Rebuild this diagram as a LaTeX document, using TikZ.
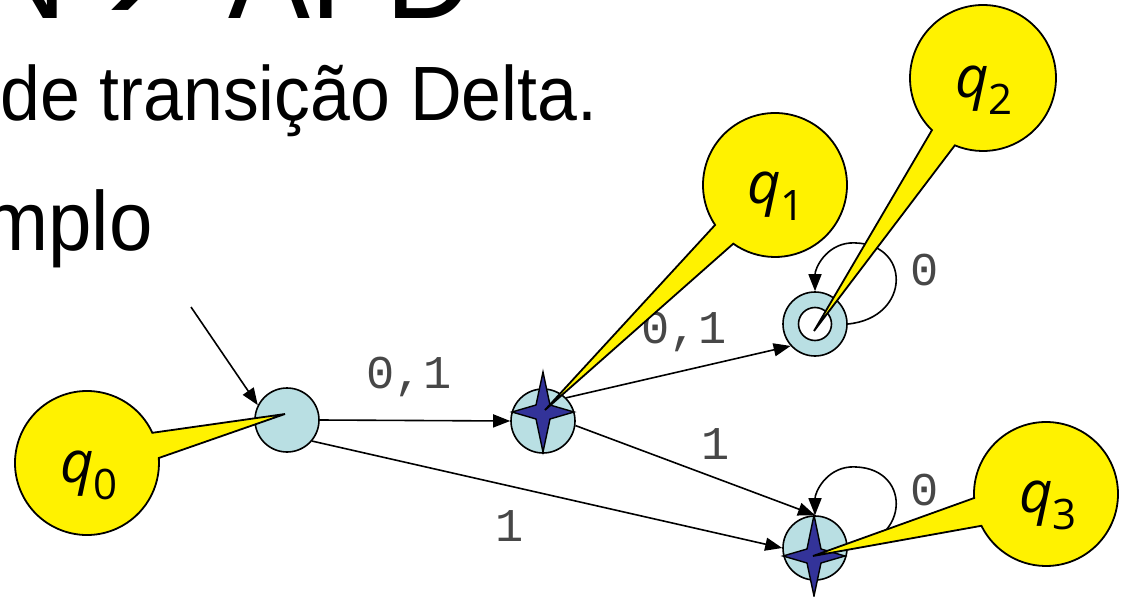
\documentclass[tikz,border=0pt]{standalone}
\usepackage{fontspec}
\usepackage{graphicx}
\setmainfont{Liberation Sans}
\newfontfamily\monofont{Liberation Mono}
\newfontfamily\callfont{Open Sans}
\newfontfamily\symfont{DejaVu Sans}
\usetikzlibrary{arrows.meta,calc}
\definecolor{stateblue}{RGB}{185,223,227}
\definecolor{starblue}{RGB}{51,51,153}
\begin{document}
\begin{tikzpicture}[x=1pt,y=-1pt,
  state/.style={circle, draw=black, line width=1.6pt, fill=stateblue, minimum size=64pt, inner sep=0pt},
  innerring/.style={circle, draw=black, line width=1.6pt, fill=white, minimum size=33pt, inner sep=0pt},
  starpath/.style={draw=black, line width=1.4pt, fill=starblue, line join=miter},
  edge/.style={draw=black, line width=1.6pt, -{Triangle[length=17pt,width=13pt]}},
  lab/.style={font=\monofont\fontsize{47}{47}\selectfont, text=black!72, inner sep=0pt, anchor=base},
  callout/.style={draw=black, line width=1.8pt, fill=yellow, line join=miter},
  qtext/.style={font=\callfont\fontsize{58}{58}\selectfont, anchor=base, inner sep=0pt},
  slidetext/.style={inner sep=0pt}
]
\useasboundingbox (0,0) rectangle (1128,597);
\clip (0,0) rectangle (1128,597);

% slide text
\node[slidetext, anchor=base west] (title) at (-22,19)
  {\fontsize{132}{132}\selectfont\makebox[88pt][l]{\scalebox{0.93}[1]{N}}\makebox[162pt][l]{\hspace{3pt}{\symfont\fontsize{107}{107}\selectfont ➔}}\scalebox{0.93}[1]{AFD}};
\node[slidetext, anchor=base west] (sub) at (0,120)
  {\fontsize{77}{77}\selectfont\scalebox{0.93}[1]{de transição Delta.}};
\node[slidetext, anchor=base east] (ex) at (153,250)
  {\fontsize{84}{84}\selectfont\scalebox{0.93}[1]{mplo}};

% states
\node[state] (q0) at (287,420) {};
\node[state] (q1) at (543,421) {};
\node[state] (q2) at (815,324) {};
\node[state] (q3) at (815,548) {};
\node[innerring] (q2in) at (815,324) {};

% stars
\draw[starpath, shift={(543,412)}] (0,-40) -- (7,-7) -- (31,0) -- (7,7) -- (0,40) -- (-7,7) -- (-31,0) -- (-7,-7) -- cycle;
\draw[starpath, shift={(814,556)}] (0,-41) -- (7,-7) -- (31,0) -- (7,7) -- (0,40) -- (-7,7) -- (-31,0) -- (-7,-7) -- cycle;

% connectors
\coordinate (init) at (191,307);
\draw[edge] (init) -- (q0.153);
\draw[edge] (q0.east) -- (q1.west);
\draw[edge] (q0.-40) -- (q3.west);
\draw[edge] (q1.45) -- (q2.222);
\draw[edge] (q1.-8) -- (q3.north);
\draw[edge] (q2.east) .. controls (912,318) and (912,240) .. (850,243) .. controls (826,245) and (815,268) .. (q2.north);
\draw[edge] (q3.east) .. controls (912,542) and (912,464) .. (850,467) .. controls (826,469) and (815,492) .. (q3.north);

% labels
\node[lab] (l01a) at (409,388) {0,1};
\node[lab] (l01b) at (684,343) {0,1};
\node[lab] (l1a) at (716,459) {1};
\node[lab] (l1b) at (510,541) {1};
\node[lab] (l0a) at (925,285) {0};
\node[lab] (l0b) at (925,505) {0};

% callouts
\coordinate (c0) at (87,463);  \coordinate (t0) at (285,414);
\coordinate (c1) at (775,185); \coordinate (t1) at (545,410);
\coordinate (c2) at (983,78);  \coordinate (t2) at (814,331);
\coordinate (c3) at (1046,494);\coordinate (t3) at (813,556);
\draw[callout] (t0) -- ($(c0)+(-24.8:72)$) arc[start angle=-24.8, end angle=-364, radius=72] -- cycle;
\draw[callout] (t1) -- ($(c1)+(146.3:72)$) arc[start angle=146.3, end angle=485.4, radius=72] -- cycle;
\draw[callout] (t2) -- ($(c2)+(134.4:73)$) arc[start angle=134.4, end angle=472.7, radius=73] -- cycle;
\draw[callout] (t3) -- ($(c3)+(176.8:72)$) arc[start angle=176.8, end angle=513.8, radius=72] -- cycle;

\node[qtext] (n0) at (89,482) {\itshape q\raisebox{-17pt}{\upshape\fontsize{42}{42}\selectfont 0}};
\node[qtext] (n1) at (776,203) {\itshape q\raisebox{-17pt}{\upshape\fontsize{42}{42}\selectfont 1}};
\node[qtext] (n2) at (984,97) {\itshape q\raisebox{-17pt}{\upshape\fontsize{42}{42}\selectfont 2}};
\node[qtext] (n3) at (1048,512) {\itshape q\raisebox{-17pt}{\upshape\fontsize{42}{42}\selectfont 3}};
\end{tikzpicture}
\end{document}
